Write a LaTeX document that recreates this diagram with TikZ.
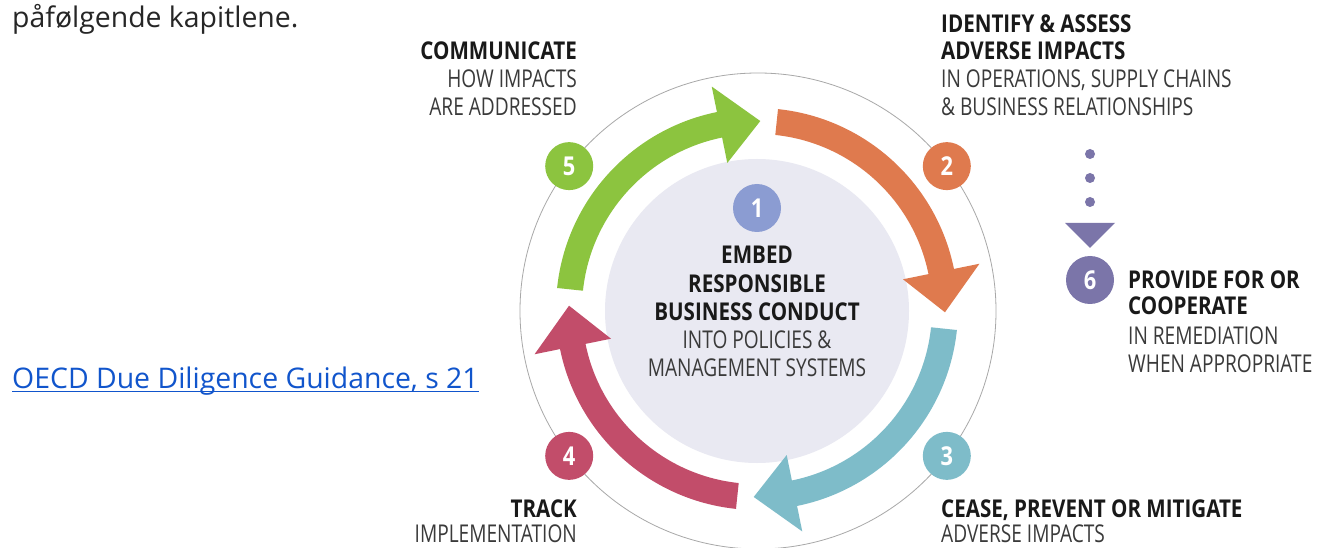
\documentclass[tikz,border=0pt]{standalone}
\usepackage{fontspec}
\setmainfont{Open Sans}
\newfontfamily\dfont[FakeStretch=0.78, BoldFeatures={FakeStretch=0.84}]{Open Sans}
\usetikzlibrary{calc}
\definecolor{cgreen}{HTML}{8CC43F}
\definecolor{corange}{HTML}{DF7A4E}
\definecolor{cblue}{HTML}{7EBCC9}
\definecolor{cpink}{HTML}{C24D6A}
\definecolor{cone}{HTML}{8B9CD2}
\definecolor{csix}{HTML}{7B75A9}
\definecolor{cinner}{HTML}{E9E9F2}
\definecolor{cring}{HTML}{A8A8A8}
\definecolor{linkblue}{HTML}{1155CC}
\definecolor{subgray}{HTML}{3A3A3A}
\newcommand\cycarrow[2]{%
  \pgfmathsetmacro\tipA{#1-85}%
  \pgfmathsetmacro\baseA{#1-72.5}%
  \fill[#2] (#1:201) arc[start angle=#1, end angle=\baseA, radius=201]
    -- (\baseA:227) -- (\tipA:188) -- (\baseA:149) -- (\baseA:175)
    arc[start angle=\baseA, end angle=#1, radius=175] -- cycle;}
\tikzset{
  hd/.style={font=\dfont\bfseries\fontsize{24.5}{27}\selectfont, text=black!90, inner sep=0pt},
  sub/.style={font=\dfont\fontsize{24.5}{27}\selectfont, text=subgray, inner sep=0pt},
  numc/.style={circle, minimum size=48pt, inner sep=0pt, text=white,
    font=\dfont\bfseries\fontsize{26}{26}\selectfont},
  body/.style={font=\fontsize{28.4}{32}\selectfont, text=black!85, inner sep=0pt},
}
\begin{document}
\begin{tikzpicture}[x=1pt,y=1pt]
\useasboundingbox (0,0) rectangle (1318,-548);
\clip (0,0) rectangle (1318,-548);
\fill[white] (0,0) rectangle (1318,-548);

% intro and source
\node[body, anchor=base west] (intro) at (12,-28) {påfølgende kapitlene.};
\node[body, text=linkblue, anchor=base west] (src) at (12,-388) {OECD Due Diligence Guidance, s 21};
\draw[linkblue, line width=1.5pt] ([yshift=-3.5pt]src.base west) -- ([yshift=-3.5pt]src.base east);

% rings
\coordinate (oc) at (758,-311);
\draw[cring, line width=0.8pt] (oc) circle[radius=238];
\fill[cinner] (757,-311) circle[radius=152];

% cycle arrows
\begin{scope}[shift={(757,-309)}]
  \cycarrow{174}{cgreen}
  \cycarrow{84}{corange}
  \cycarrow{-6}{cblue}
  \cycarrow{-96}{cpink}
\end{scope}

% numbered circles
\node[numc, fill=cone] (n1) at (757,-208) {1};
\node[numc, fill=corange] (n2) at ($(oc)+(37.5:238)$) {2};
\node[numc, fill=cblue] (n3) at ($(oc)+(-37.5:238)$) {3};
\node[numc, fill=cpink] (n4) at ($(oc)+(-142.5:238)$) {4};
\node[numc, fill=cgreen] (n5) at ($(oc)+(142.5:238)$) {5};
\node[numc, fill=csix] (n6) at (1090,-280) {6};

% dotted arrow to 6
\coordinate (dtop) at (1090,-154);
\coordinate (dbot) at (1090,-203);
\draw[csix, line width=10pt, line cap=round, dash pattern=on 0pt off 24pt] (dtop) -- (dbot);
\fill[csix] ($(n6.north)+(-25,33)$) -- ($(n6.north)+(25,33)$) -- ($(n6.north)+(0,8)$) -- cycle;

% centre text
\node[hd, anchor=base] (c1) at (757,-264) {EMBED};
\node[hd, anchor=base] (c2) at (757,-292) {RESPONSIBLE};
\node[hd, anchor=base] (c3) at (757,-320) {BUSINESS CONDUCT};
\node[sub, anchor=base] (c4) at (757,-348) {INTO POLICIES \&};
\node[sub, anchor=base] (c5) at (757,-376) {MANAGEMENT SYSTEMS};

% step 5
\node[hd, anchor=base east] (t5a) at (577,-60) {COMMUNICATE};
\node[sub, anchor=base east] (t5b) at (577,-88) {HOW IMPACTS};
\node[sub, anchor=base east] (t5c) at (577,-116) {ARE ADDRESSED};

% step 2
\node[hd, anchor=base west] (t2a) at (941,-33) {IDENTIFY \& ASSESS};
\node[hd, anchor=base west] (t2b) at (941,-60) {ADVERSE IMPACTS};
\node[sub, anchor=base west] (t2c) at (941,-88) {IN OPERATIONS, SUPPLY CHAINS};
\node[sub, anchor=base west] (t2d) at (941,-116) {\& BUSINESS RELATIONSHIPS};

% step 6
\node[hd, anchor=base west] (t6a) at (1128,-288) {PROVIDE FOR OR};
\node[hd, anchor=base west] (t6b) at (1128,-314) {COOPERATE};
\node[sub, anchor=base west] (t6c) at (1128,-344) {IN REMEDIATION};
\node[sub, anchor=base west] (t6d) at (1128,-372) {WHEN APPROPRIATE};

% step 4
\node[hd, anchor=base east] (t4a) at (577,-517) {TRACK};
\node[sub, anchor=base east] (t4b) at (577,-542) {IMPLEMENTATION};

% step 3
\node[hd, anchor=base west] (t3a) at (941,-517) {CEASE, PREVENT OR MITIGATE};
\node[sub, anchor=base west] (t3b) at (941,-542) {ADVERSE IMPACTS};
\end{tikzpicture}
\end{document}
